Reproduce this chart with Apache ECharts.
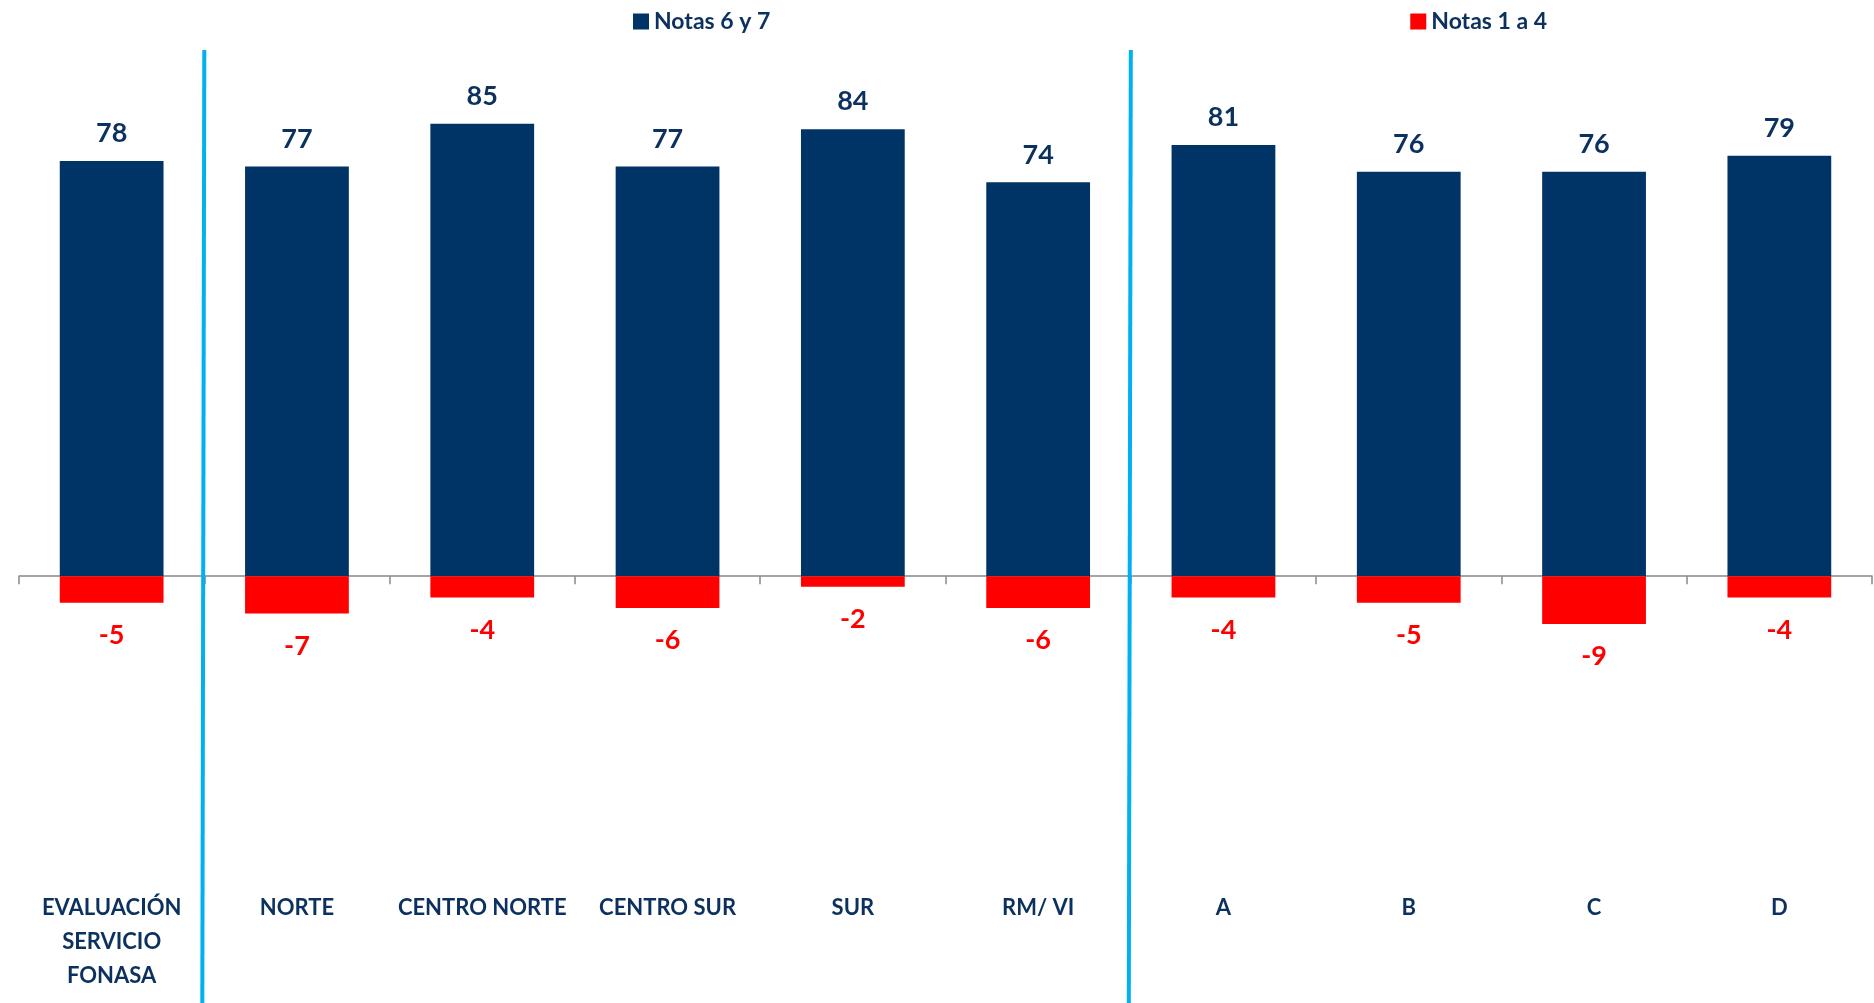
<!DOCTYPE html>
<html>
<head>
<meta charset="utf-8">
<script src="https://cdn.jsdelivr.net/npm/echarts@6/dist/echarts.min.js"></script>
<style>
html,body{margin:0;padding:0;background:#fff;}
#chart{width:1874px;height:1003px;}
</style>
</head>
<body>
<div id="chart"></div>
<script>
const categories = ['EVALUACIÓN\nSERVICIO\nFONASA', 'NORTE', 'CENTRO NORTE', 'CENTRO SUR', 'SUR', 'RM/ VI', 'A', 'B', 'C', 'D'];
const notas67 = [78, 77, 85, 77, 84, 74, 81, 76, 76, 79];
const notas14 = [-5, -7, -4, -6, -2, -6, -4, -5, -9, -4];
const seriesNames = ['Notas 6 y 7', 'Notas 1 a 4'];
const separatorsAfter = [0, 5];

const NAVY = '#003366';
const RED = '#ff0000';
const TEXT = '#0c315f';
const FONT = 'Lato';

const chart = echarts.init(document.getElementById('chart'), null, {renderer: 'canvas'});

const option = {
  backgroundColor: '#ffffff',
  animation: false,
  textStyle: {fontFamily: FONT},
  legend: {
    top: 5,
    left: 628,
    itemGap: 640,
    itemWidth: 16,
    itemHeight: 16,
    icon: 'rect',
    data: seriesNames,
    textStyle: {color: TEXT, fontSize: 23, fontWeight: 'bold', fontFamily: FONT, padding: [0, 0, 0, 0]}
  },
  grid: {left: 19, right: 2, top: 44, bottom: 214, containLabel: false},
  xAxis: [
    {
      type: 'category',
      data: categories,
      position: 'bottom',
      axisLine: {show: false, onZero: false},
      axisTick: {show: false},
      axisLabel: {
        margin: 102,
        color: TEXT,
        fontSize: 22,
        fontWeight: 'bold',
        fontFamily: FONT,
        lineHeight: 34,
        interval: 0
      }
    },
    {
      type: 'category',
      data: categories,
      position: 'bottom',
      axisLine: {show: true, onZero: true, lineStyle: {color: '#888888', width: 1.5}},
      axisTick: {show: true, length: 8, inside: false, lineStyle: {color: '#888888', width: 1.5}},
      axisLabel: {show: false}
    }
  ],
  yAxis: {
    type: 'value',
    min: -40,
    max: 100,
    show: false,
    splitLine: {show: false}
  },
  series: [
    {
      name: seriesNames[0],
      type: 'bar',
      stack: 'total',
      barWidth: '56%',
      data: notas67,
      itemStyle: {color: NAVY},
      label: {
        show: true,
        position: 'top',
        distance: 14,
        color: TEXT,
        fontSize: 27,
        fontWeight: 'bold',
        fontFamily: FONT
      }
    },
    {
      name: seriesNames[1],
      type: 'bar',
      stack: 'total',
      barWidth: '56%',
      data: notas14,
      itemStyle: {color: RED},
      label: {
        show: true,
        position: 'bottom',
        distance: 19,
        color: RED,
        fontSize: 27,
        fontWeight: 'bold',
        fontFamily: FONT
      }
    }
  ]
};

chart.setOption(option);

function drawSeparators() {
  const lines = separatorsAfter.map(function (i) {
    const x0 = chart.convertToPixel({xAxisIndex: 0}, i);
    const x1 = chart.convertToPixel({xAxisIndex: 0}, i + 1);
    const x = (x0 + x1) / 2;
    return {
      type: 'line',
      shape: {x1: x, y1: 50, x2: x - 2, y2: 1003},
      style: {stroke: '#00b0f0', lineWidth: 4},
      z: 10
    };
  });
  chart.setOption({graphic: lines});
}
drawSeparators();
</script>
</body>
</html>
